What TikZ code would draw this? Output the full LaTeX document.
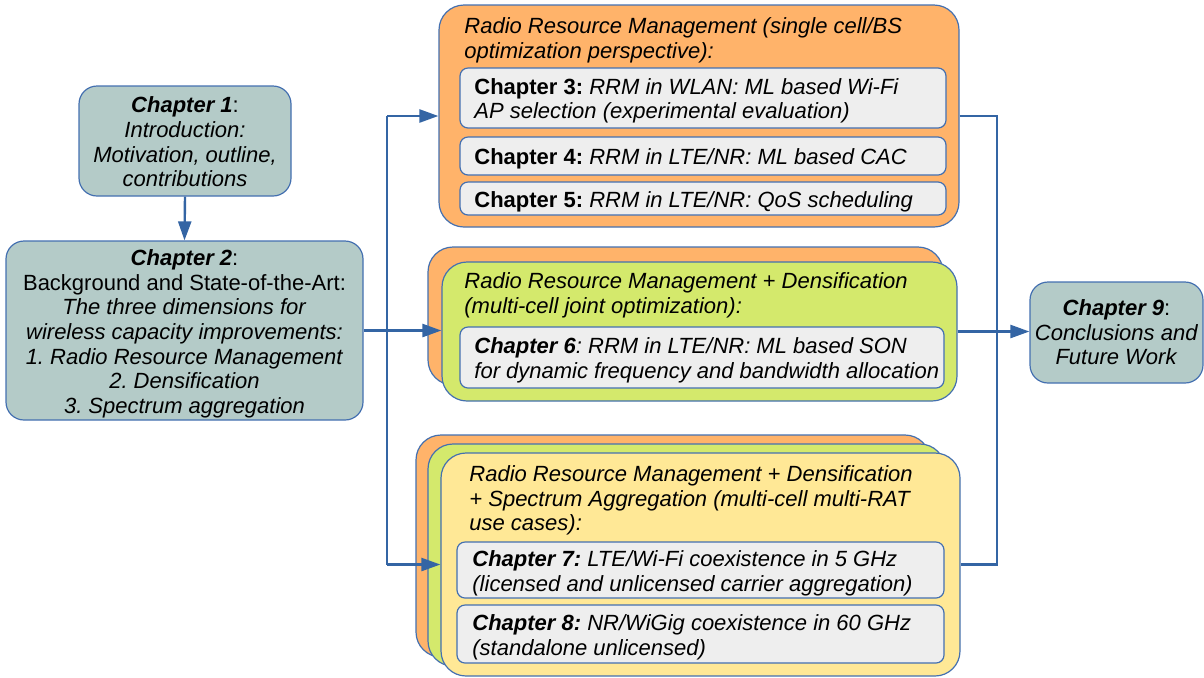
\documentclass[tikz,border=0pt]{standalone}
\usepackage{fontspec}
\setmainfont{Liberation Sans}
\usetikzlibrary{arrows.meta}
\frenchspacing

\definecolor{chapfill}{HTML}{B4CBC8}
\definecolor{rrmfill}{HTML}{FFB36A}
\definecolor{densfill}{HTML}{D4E96C}
\definecolor{specfill}{HTML}{FFE896}
\definecolor{itemfill}{HTML}{EEEEEE}
\definecolor{edge}{HTML}{4470B0}
\definecolor{link}{HTML}{3465A4}

\tikzset{
  chapbox/.style={draw=edge, line width=0.6pt, fill=chapfill, rounded corners=9pt,
                  align=center, inner sep=0pt},
  groupbox/.style={draw=edge, line width=0.6pt, rounded corners=12.5pt, inner sep=0pt},
  itembox/.style={draw=edge, line width=0.6pt, fill=itemfill, rounded corners=4pt,
                  inner sep=0pt},
  txt/.style={align=left, inner sep=0pt, anchor=west},
  conn/.style={draw=link, line width=1.2pt},
  arr/.style={conn, -{Triangle[length=9.5pt,width=6.5pt]}},
}

\newcommand{\chap}[1]{\textbf{\textit{#1}}}

\begin{document}
\begin{tikzpicture}[x=0.5pt, y=-0.5pt, font=\fontsize{11}{12.3}\selectfont]
\useasboundingbox (0,0) rectangle (1204,677);

% --- introduction and background ---
\node[chapbox, minimum width=106pt, minimum height=55pt] (ch1) at (185,141)
  {\rule{0pt}{8.8pt}\chap{Chapter 1}:\\ \textit{Introduction:}\\ \textit{Motivation, outline,}\\ \textit{contributions}};
\node[chapbox, minimum width=178.5pt, minimum height=89.5pt] (ch2) at (184.5,330.5)
  {\rule{0pt}{11.3pt}\chap{Chapter 2}:\\ Background and State-of-the-Art:\\ \textit{The three dimensions for}\\
   \textit{wireless capacity improvements:}\\ \textit{1. Radio Resource Management}\\
   \textit{2. Densification}\\ \textit{3. Spectrum aggregation}};

% --- conclusions ---
\node[chapbox, minimum width=86.5pt, minimum height=50.5pt] (ch9) at (1116.5,332.5)
  {\chap{Chapter 9}:\\ \textit{Conclusions and}\\ \textit{Future Work}};

% --- group 1: RRM ---
\node[groupbox, fill=rrmfill, minimum width=260pt, minimum height=111pt] (g1) at (699,116) {};
\node[txt] (h1) at (464,40.5)
  {\textit{Radio Resource Management (single cell/BS}\\ \textit{optimization perspective):}};
\node[itembox, minimum width=243pt, minimum height=30pt] (c3) at (703,98) {};
\node[txt] (t3) at (474,101)
  {\textbf{Chapter 3:} \textit{RRM in WLAN: ML based Wi-Fi}\\ \textit{AP selection (experimental evaluation)}};
\node[itembox, minimum width=243pt, minimum height=19pt] (c4) at (703,156) {};
\node[txt] (t4) at (474,159) {\textbf{Chapter 4:} \textit{RRM in LTE/NR: ML based CAC}};
\node[itembox, minimum width=243pt, minimum height=16.5pt] (c5) at (703,198.5) {};
\node[txt] (t5) at (474,201.5) {\textbf{Chapter 5:} \textit{RRM in LTE/NR: QoS scheduling}};

% --- group 2: RRM + densification ---
\node[groupbox, fill=rrmfill, minimum width=257.5pt, minimum height=69pt] (g2b) at (685.5,316) {};
\node[groupbox, fill=densfill, minimum width=257.5pt, minimum height=69.5pt] (g2) at (699.5,331.5) {};
\node[txt] (h2) at (464,295.5)
  {\textit{Radio Resource Management + Densification}\\ \textit{(multi-cell joint optimization):}};
\node[itembox, minimum width=242pt, minimum height=30.5pt] (c6) at (702,357.5) {};
\node[txt] (t6) at (474,360.5)
  {\chap{Chapter 6}\textit{: RRM in LTE/NR: ML based SON}\\ \textit{for dynamic frequency and bandwidth allocation}};

% --- group 3: RRM + densification + spectrum aggregation ---
\node[groupbox, fill=rrmfill, minimum width=257pt, minimum height=111pt] (g3a) at (673,546) {};
\node[groupbox, fill=densfill, minimum width=258.5pt, minimum height=111pt] (g3b) at (686.5,555) {};
\node[groupbox, fill=specfill, minimum width=259.5pt, minimum height=111.5pt] (g3) at (700.5,564.5) {};
\node[txt] (h3) at (469,500.5)
  {\textit{Radio Resource Management + Densification}\\ \textit{+ Spectrum Aggregation (multi-cell multi-RAT}\\ \textit{use cases):}};
\node[itembox, minimum width=243.5pt, minimum height=28pt] (c7) at (700.5,570) {};
\node[txt] (t7) at (472,573)
  {\chap{Chapter 7:} \textit{LTE/Wi-Fi coexistence in 5 GHz}\\ \textit{(licensed and unlicensed carrier aggregation)}};
\node[itembox, minimum width=243.5pt, minimum height=29pt] (c8) at (700.5,634) {};
\node[txt] (t8) at (472,637)
  {\chap{Chapter 8:} \textit{NR/WiGig coexistence in 60 GHz}\\ \textit{(standalone unlicensed)}};

% --- connectors ---
\coordinate (sL) at (387,331);
\coordinate (sR) at (997,331);
\draw[arr] (ch1.south) -- (ch2.north);
\draw[arr] (ch2.east) -- (ch2.east -| g2.west);
\draw[conn] (sL |- g1.west) -- (sL |- g3.west);
\draw[arr] (sL |- g1.west) -- (g1.west);
\draw[arr] (sL |- g3.west) -- (g3.west);
\draw[conn] (g1.east) -- (g1.east -| sR) -- (g3.east -| sR) -- (g3.east);
\draw[arr] (g2.east) -- (g2.east -| ch9.west);
\end{tikzpicture}
\end{document}
